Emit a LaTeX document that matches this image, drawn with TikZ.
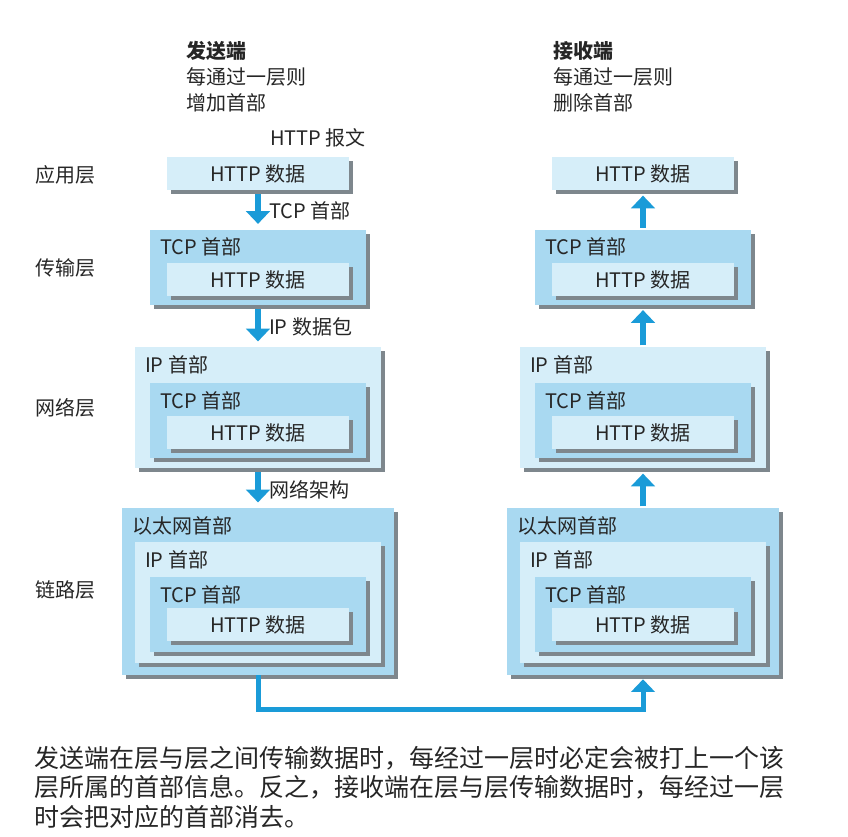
\documentclass[tikz,border=0pt]{standalone}
\usepackage{fontspec}
\setmainfont{Noto Sans CJK SC}
\usetikzlibrary{arrows.meta, shadows}
\definecolor{pktdark}{HTML}{A9D9F1}
\definecolor{pktlight}{HTML}{D6EEF9}
\definecolor{pktshade}{HTML}{7E878D}
\definecolor{flowblue}{HTML}{1A9BD8}

\begin{document}
\begin{tikzpicture}[x=0.75pt, y=-0.75pt,
    font=\fontsize{15pt}{18pt}\selectfont, text=black!85,
    pkt/.style={rectangle, inner sep=0pt, draw=none,
                drop shadow={shadow xshift=3pt, shadow yshift=-3pt,
                             opacity=1, fill=pktshade}},
    dark/.style={pkt, fill=pktdark},
    light/.style={pkt, fill=pktlight},
    httpbox/.style={minimum width=136.5pt, minimum height=24.75pt},
    tcpbox/.style={minimum width=162pt, minimum height=56.25pt},
    ipbox/.style={minimum width=184.5pt, minimum height=90.75pt},
    ethbox/.style={minimum width=204pt, minimum height=125.25pt},
    hdr/.style={anchor=west, inner sep=0pt},
    flow/.style={draw=flowblue, line width=4.5pt,
                 -{Triangle[width=17.5pt, length=9.5pt]}}
  ]
  \useasboundingbox (0,0) rectangle (848,836);

  % sender / receiver headings
  \node[hdr, anchor=north west, align=left] (sHead) at (186,41)
    {\textbf{发送端}\\[1.5pt]每通过一层则\\[1.5pt]增加首部};
  \node[hdr, anchor=north west, align=left] (rHead) at (553,41)
    {\textbf{接收端}\\[1.5pt]每通过一层则\\[1.5pt]删除首部};

  % layer names
  \node[hdr] (lApp)  at (35,175) {应用层};
  \node[hdr] (lTra)  at (35,268) {传输层};
  \node[hdr] (lNet)  at (35,408) {网络层};
  \node[hdr] (lLink) at (35,590) {链路层};

  % sender side
  \node[light, httpbox] (sApp) at (258,173.5) {HTTP 数据};

  \node[dark, tcpbox] (sTra) at (258,267) {};
  \node[hdr] at ([xshift=7.5pt, yshift=-13.5pt]sTra.north west) {TCP 首部};
  \node[light, httpbox] (sTraHttp) at (258,279.5) {HTTP 数据};

  \node[light, ipbox] (sNet) at (258,407.5) {};
  \node[hdr] at ([xshift=7.5pt, yshift=-13.5pt]sNet.north west) {IP 首部};
  \node[dark, tcpbox] (sNetTcp) at (258,420.5) {};
  \node[hdr] at ([xshift=7.5pt, yshift=-13.5pt]sNetTcp.north west) {TCP 首部};
  \node[light, httpbox] (sNetHttp) at (258,432.5) {HTTP 数据};

  \node[dark, ethbox] (sLink) at (258,591.5) {};
  \node[hdr] at ([xshift=7.5pt, yshift=-13.5pt]sLink.north west) {以太网首部};
  \node[light, ipbox] (sLinkIp) at (258,602.5) {};
  \node[hdr] at ([xshift=7.5pt, yshift=-13.5pt]sLinkIp.north west) {IP 首部};
  \node[dark, tcpbox] (sLinkTcp) at (258,614.5) {};
  \node[hdr] at ([xshift=7.5pt, yshift=-13.5pt]sLinkTcp.north west) {TCP 首部};
  \node[light, httpbox] (sLinkHttp) at (258,624.5) {HTTP 数据};

  % receiver side
  \node[light, httpbox] (rApp) at (643,173.5) {HTTP 数据};

  \node[dark, tcpbox] (rTra) at (643,267) {};
  \node[hdr] at ([xshift=7.5pt, yshift=-13.5pt]rTra.north west) {TCP 首部};
  \node[light, httpbox] (rTraHttp) at (643,279.5) {HTTP 数据};

  \node[light, ipbox] (rNet) at (643,407.5) {};
  \node[hdr] at ([xshift=7.5pt, yshift=-13.5pt]rNet.north west) {IP 首部};
  \node[dark, tcpbox] (rNetTcp) at (643,420.5) {};
  \node[hdr] at ([xshift=7.5pt, yshift=-13.5pt]rNetTcp.north west) {TCP 首部};
  \node[light, httpbox] (rNetHttp) at (643,432.5) {HTTP 数据};

  \node[dark, ethbox] (rLink) at (643,591.5) {};
  \node[hdr] at ([xshift=7.5pt, yshift=-13.5pt]rLink.north west) {以太网首部};
  \node[light, ipbox] (rLinkIp) at (643,602.5) {};
  \node[hdr] at ([xshift=7.5pt, yshift=-13.5pt]rLinkIp.north west) {IP 首部};
  \node[dark, tcpbox] (rLinkTcp) at (643,614.5) {};
  \node[hdr] at ([xshift=7.5pt, yshift=-13.5pt]rLinkTcp.north west) {TCP 首部};
  \node[light, httpbox] (rLinkHttp) at (643,624.5) {HTTP 数据};

  % down arrows (sender)
  \node[hdr] (tMsg) at (270,138) {HTTP 报文};
  \draw[flow, shorten <=3pt, shorten >=4pt] (sApp.south) -- node[hdr, right=6pt, yshift=-1pt]{TCP 首部} (sTra.north);
  \draw[flow, shorten <=3pt, shorten >=4pt] (sTra.south) -- node[hdr, right=6pt, yshift=-1pt]{IP 数据包} (sNet.north);
  \draw[flow, shorten <=3pt, shorten >=4pt] (sNet.south) -- node[hdr, right=6pt, yshift=-1pt]{网络架构} (sLink.north);

  % up arrows (receiver)
  \draw[flow, shorten <=1pt, shorten >=4pt] (rTra.north) -- (rApp.south);
  \draw[flow, shorten <=1pt, shorten >=4pt] (rNet.north) -- (rTra.south);
  \draw[flow, shorten <=1pt, shorten >=4pt] (rLink.north) -- (rNet.south);

  % physical link
  \draw[flow, line width=3.75pt, shorten >=3pt] (sLink.south) -- ++(0,34) -| (rLink.south);

  % caption
  \node[anchor=north west, inner sep=0pt, align=left,
        font=\fontsize{18.75pt}{22pt}\selectfont] (note) at (34,746)
    {发送端在层与层之间传输数据时，每经过一层时必定会被打上一个该\\
     层所属的首部信息。反之，接收端在层与层传输数据时，每经过一层\\
     时会把对应的首部消去。};
\end{tikzpicture}
\end{document}
